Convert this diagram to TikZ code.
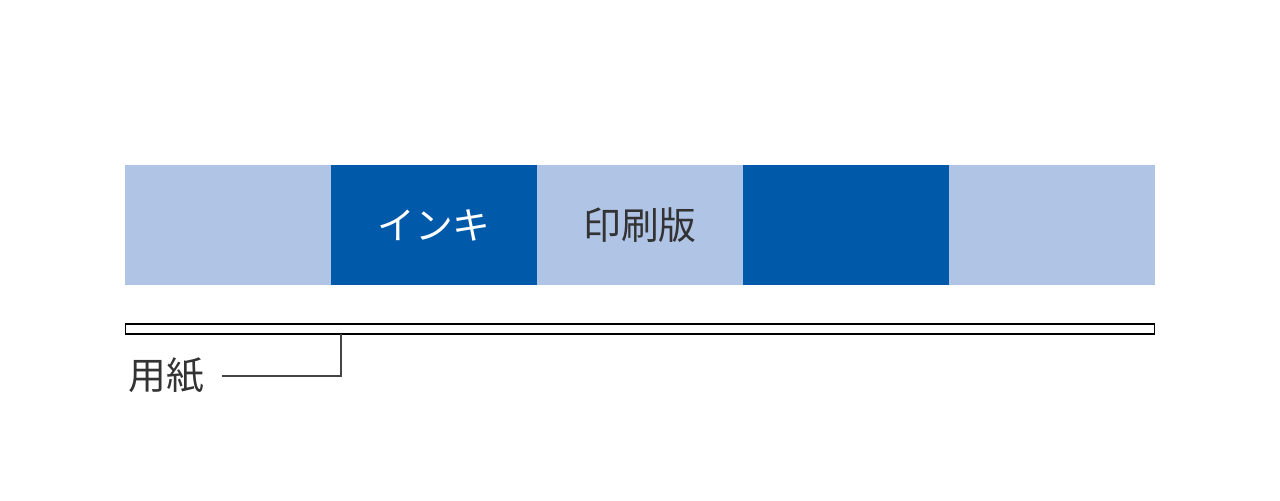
\documentclass[tikz,border=0pt]{standalone}
\usepackage{fontspec}
\usepackage{xcolor}
\newfontfamily\jpfont{Noto Sans CJK JP}
\definecolor{plateblue}{HTML}{B0C4E6}
\definecolor{inkblue}{HTML}{0059A9}
\definecolor{textgray}{HTML}{333333}
\definecolor{linegray}{HTML}{444444}
\usetikzlibrary{positioning,calc}

\begin{document}
\begin{tikzpicture}[x=0.02cm, y=-0.02cm,
    block/.style={minimum width=4.12cm, minimum height=2.4cm, inner sep=0pt, outer sep=0pt, font=\jpfont\fontsize{21.5pt}{21.5pt}\selectfont},
    plate/.style={block, fill=plateblue, text=textgray},
    ink/.style={block, fill=inkblue, text=white}]
    \useasboundingbox (0,0) rectangle (1280,500);

    % rollers / plates
    \node [plate] (b1) at (228,225) {};
    \node [ink, right=0pt of b1] (b2) {\raisebox{-0.05cm}{インキ}};
    \node [plate, right=0pt of b2] (b3) {\raisebox{-0.05cm}{印刷版}};
    \node [ink, right=0pt of b3] (b4) {};
    \node [plate, right=0pt of b4] (b5) {};

    % paper
    \node [draw, line width=0.65pt, minimum width=20.6cm, minimum height=0.2cm, inner sep=0pt] (paper) at (640,329) {};
    \node [font=\jpfont\fontsize{21.5pt}{21.5pt}\selectfont, text=textgray, inner sep=0pt] (label) at (166,376) {用紙};
    \coordinate (tap) at (341,334);
    \draw [linegray, line width=1.1pt] ([xshift=0.36cm]label.east) -| (tap);
\end{tikzpicture}
\end{document}
